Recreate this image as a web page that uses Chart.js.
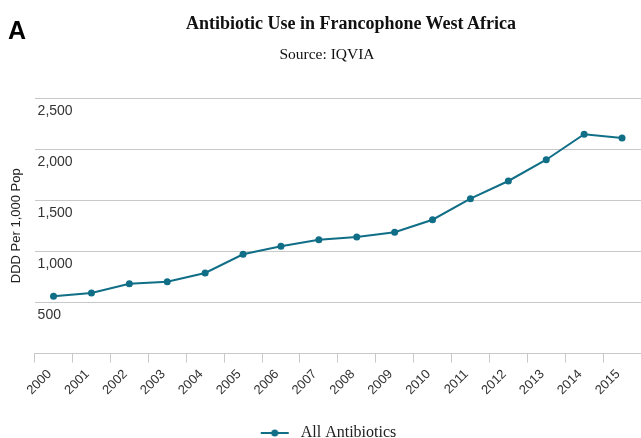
<!DOCTYPE html>
<html>
<head>
<meta charset="utf-8">
<script src="https://cdn.jsdelivr.net/npm/chart.js@4.4.1/dist/chart.umd.min.js"></script>
<style>
    html, body { margin: 0; padding: 0; background: #fff; }
    #wrap { position: relative; width: 641px; height: 438px; overflow: hidden; }
    #panelLetter { position: absolute; left: 8px; top: 16px; line-height: 1; font: bold 25px "Liberation Sans", Arial, sans-serif; color: #000; }
    .head { position: absolute; text-align: center; line-height: 1; font-family: "Liberation Serif", Georgia, serif; color: #111; white-space: nowrap; }
    #title { left: 101px; width: 500px; top: 14px; font-size: 18px; font-weight: bold; }
    #subtitle { left: 127px; width: 400px; top: 46px; font-size: 15.5px; }
</style>
</head>
<body>
<div id="wrap">
    <canvas id="useChart" width="641" height="438"></canvas>
    <div id="panelLetter">A</div>
    <div id="title" class="head">Antibiotic Use in Francophone West Africa</div>
    <div id="subtitle" class="head">Source: IQVIA</div>
</div>
<script>
// Chart data
const years = ['2000', '2001', '2002', '2003', '2004', '2005', '2006', '2007',
               '2008', '2009', '2010', '2011', '2012', '2013', '2014', '2015'];
const allAntibiotics = [560, 592, 683, 703, 788, 971, 1049, 1114,
                        1140, 1186, 1309, 1515, 1688, 1896, 2145, 2109];
const yTicks = [0, 500, 1000, 1500, 2000, 2500];

const teal = '#106e87';

// Legend marker: short line with a dot in the middle (blank space on both sides)
const marker = document.createElement('canvas');
marker.width = 48;
marker.height = 10;
const mctx = marker.getContext('2d');
mctx.strokeStyle = teal;
mctx.lineWidth = 2;
mctx.beginPath();
mctx.moveTo(16, 5);
mctx.lineTo(44, 5);
mctx.stroke();
mctx.fillStyle = teal;
mctx.beginPath();
mctx.arc(30, 5, 3.5, 0, Math.PI * 2);
mctx.fill();

const ctx = document.getElementById('useChart').getContext('2d');
const useChart = new Chart(ctx, {
    type: 'line',
    data: {
        labels: years,
        datasets: [{
            label: 'All Antibiotics',
            data: allAntibiotics,
            borderColor: teal,
            backgroundColor: teal,
            borderWidth: 2,
            tension: 0,
            pointRadius: 3.5,
            pointBackgroundColor: teal,
            pointBorderWidth: 0
        }]
    },
    options: {
        responsive: false,
        animation: false,
        layout: {
            autoPadding: false,
            padding: { top: 98, right: 0, bottom: -13, left: 0 }
        },
        plugins: {
            legend: {
                position: 'bottom',
                labels: {
                    usePointStyle: true,
                    pointStyle: marker,
                    pointStyleWidth: 48,
                    padding: 23,
                    color: '#222',
                    font: { family: '"Liberation Serif", Georgia, serif', size: 16 }
                }
            },
            tooltip: { enabled: false }
        },
        scales: {
            x: {
                offset: true,
                grid: {
                    offset: true,
                    drawOnChartArea: false,
                    drawTicks: true,
                    tickLength: 9,
                    color: '#c8c8c8'
                },
                border: { display: true, color: '#c8c8c8', width: 1 },
                ticks: {
                    autoSkip: false,
                    maxRotation: 45,
                    minRotation: 45,
                    padding: 4,
                    labelOffset: -4,
                    color: '#333',
                    font: { family: '"Liberation Sans", Arial, sans-serif', size: 13 }
                }
            },
            y: {
                min: 0,
                max: 2500,
                afterBuildTicks: function(axis) {
                    axis.ticks = yTicks.map(v => ({ value: v }));
                },
                grid: {
                    drawTicks: false,
                    color: '#c8c8c8',
                    lineWidth: 1
                },
                border: { display: false },
                ticks: {
                    mirror: true,
                    padding: 3,
                    labelOffset: 13,
                    color: '#333',
                    font: { family: '"Liberation Sans", Arial, sans-serif', size: 14 },
                    callback: function(value) {
                        return value === 0 ? '' : value.toLocaleString('en-US');
                    }
                },
                title: {
                    display: true,
                    text: 'DDD Per 1,000 Pop',
                    color: '#222',
                    padding: { top: 9, bottom: 4 },
                    font: { family: '"Liberation Sans", Arial, sans-serif', size: 13 }
                }
            }
        }
    }
});
</script>
</body>
</html>
